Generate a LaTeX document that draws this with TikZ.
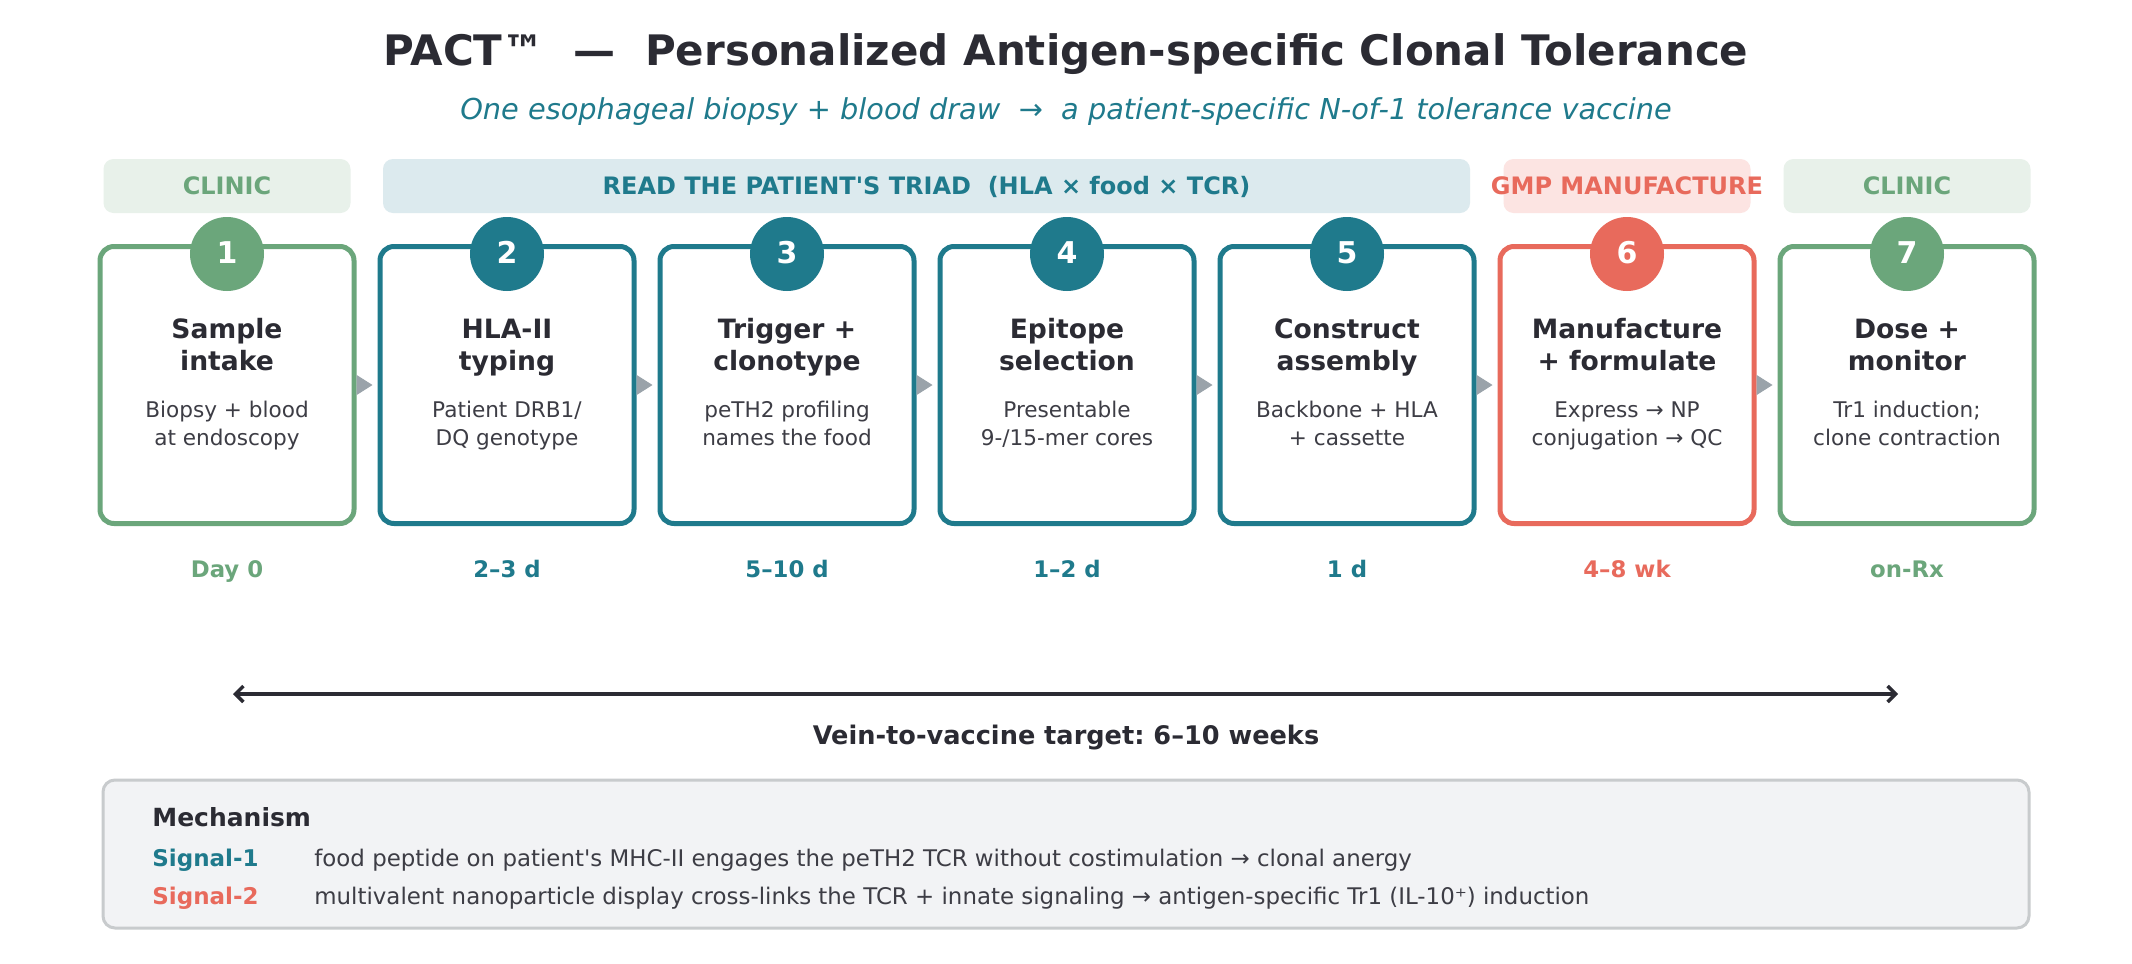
\documentclass[tikz,border=0pt]{standalone}
\usepackage{fontspec}
\setmainfont{DejaVu Sans}[ItalicFont={DejaVu Sans Oblique},BoldFont={DejaVu Sans Bold},BoldItalicFont={DejaVu Sans Bold Oblique}]
\usetikzlibrary{arrows.meta}
\frenchspacing
\definecolor{cgreen}{HTML}{6BA67B}
\definecolor{cteal}{HTML}{1F7A8C}
\definecolor{ccoral}{HTML}{E86A5C}
\definecolor{cdark}{HTML}{2B2B33}
\definecolor{ctext}{HTML}{3D3D45}
\definecolor{lgreen}{HTML}{E8F1EA}
\definecolor{lteal}{HTML}{DCEAEE}
\definecolor{lcoral}{HTML}{FCE4E2}
\definecolor{cgray}{HTML}{9AA3AA}
\definecolor{mfill}{HTML}{F2F3F5}
\definecolor{mborder}{HTML}{C8CBCD}
\tikzset{
  stepbox/.style={draw, line width=2.5pt, rounded corners=7pt, minimum width=127pt, minimum height=138.5pt, fill=white, inner sep=0pt},
  numdot/.style={circle, minimum size=37pt, inner sep=0pt, text=white, font=\bfseries\fontsize{15}{18}\selectfont},
  steptitle/.style={align=center, text=cdark, inner sep=0pt, font=\bfseries\fontsize{13.3}{16}\selectfont},
  stepdesc/.style={align=center, text=ctext, inner sep=0pt, font=\fontsize{10.8}{14}\selectfont},
  durtext/.style={inner sep=0pt, font=\bfseries\fontsize{11.4}{14}\selectfont},
  band/.style={rounded corners=5pt, minimum height=27pt, inner sep=0pt},
  bandtext/.style={inner sep=0pt, font=\bfseries\fontsize{12}{14}\selectfont},
  conn/.style={draw=cgray, line width=0.5pt, -{Triangle[length=8pt,width=10pt]}, shorten >=2.5pt},
  mechlabel/.style={inner sep=0pt, anchor=base west, font=\bfseries\fontsize{11.5}{14}\selectfont},
  mechtext/.style={inner sep=0pt, anchor=base west, text=ctext, font=\fontsize{11.45}{14}\selectfont}
}
\newcommand\pactstage[6]{%
  \node[stepbox, draw=#2] (b#1) at (#3,385) {};
  \node[numdot, fill=#2] (n#1) at (#3,254) {\raisebox{1.5pt}{#1}};
  \node[steptitle, anchor=base] (t#1) at (#3,370) {#4};
  \node[stepdesc, anchor=base] (d#1) at (#3,445) {#5};
  \node[durtext, text=#2, anchor=base] (u#1) at (#3,577) {#6};
}
\begin{document}
\begin{tikzpicture}[x=0.5pt,y=-0.5pt]
\useasboundingbox[fill=white] (0,0) rectangle (2132,964);

\node[anchor=base, inner sep=0pt, text=cdark, font=\bfseries\fontsize{21}{24}\selectfont] (title) at (1066,65) {PACT™\ \ —\ \ Personalized Antigen-specific Clonal Tolerance};
\node[anchor=base, inner sep=0pt, text=cteal, font=\itshape\fontsize{14.4}{16}\selectfont] (subtitle) at (1066,119) {One esophageal biopsy + blood draw\ \ →\ \ a patient-specific N-of-1 tolerance vaccine};

% bands
\node[band, fill=lgreen, minimum width=123.5pt] (band1) at (227,186) {};
\node[bandtext, text=cgreen, anchor=base] (bl1) at (227,194) {CLINIC};
\node[band, fill=lteal, minimum width=543.5pt] (band2) at (926.5,186) {};
\node[bandtext, text=cteal, anchor=base] (bl2) at (926.5,194) {READ THE PATIENT\textquotesingle S TRIAD\ \ (HLA × food × TCR)};
\node[band, fill=lcoral, minimum width=123.5pt] (band3) at (1627,186) {};
\node[bandtext, text=ccoral, anchor=base] (bl3) at (1627,194) {GMP MANUFACTURE};
\node[band, fill=lgreen, minimum width=123.5pt] (band4) at (1907,186) {};
\node[bandtext, text=cgreen, anchor=base] (bl4) at (1907,194) {CLINIC};

% stages
\pactstage{1}{cgreen}{227}{Sample\\intake}{Biopsy + blood\\at endoscopy}{Day 0}
\pactstage{2}{cteal}{507}{HLA-II\\typing}{Patient DRB1/\\DQ genotype}{2–3 d}
\pactstage{3}{cteal}{787}{Trigger +\\clonotype}{peTH2 profiling\\names the food}{5–10 d}
\pactstage{4}{cteal}{1067}{Epitope\\selection}{Presentable\\9-/15-mer cores}{1–2 d}
\pactstage{5}{cteal}{1347}{Construct\\assembly}{Backbone + HLA\\+ cassette}{1 d}
\pactstage{6}{ccoral}{1627}{Manufacture\\+ formulate}{Express → NP\\conjugation → QC}{4–8 wk}
\pactstage{7}{cgreen}{1907}{Dose +\\monitor}{Tr1 induction;\\clone contraction}{on-Rx}

\foreach \a/\b in {1/2,2/3,3/4,4/5,5/6,6/7} \draw[conn] (b\a.east) -- (b\b.west);

% timeline
\coordinate (tl) at (233,694);
\coordinate (tr) at (1898,694);
\draw[cdark, line width=1.75pt, {Straight Barb[length=4pt,width=8pt]}-{Straight Barb[length=4pt,width=8pt]}] (tl) -- (tr);
\node[anchor=base, inner sep=0pt, text=cdark, font=\bfseries\fontsize{12.8}{14}\selectfont] (vein) at (1066,744) {Vein-to-vaccine target: 6–10 weeks};

% mechanism
\node[draw=mborder, fill=mfill, line width=1.5pt, rounded corners=6pt, minimum width=963pt, minimum height=74pt] (mech) at (1066,854) {};
\node[mechlabel, text=cdark, font=\bfseries\fontsize{12.5}{14}\selectfont] (mh) at (152,826) {Mechanism};
\node[mechlabel, text=cteal] (s1) at (152,866) {Signal-1};
\node[mechtext] (s1t) at (314,866) {food peptide on patient\textquotesingle s MHC-II engages the peTH2 TCR without costimulation → clonal anergy};
\node[mechlabel, text=ccoral] (s2) at (152,904) {Signal-2};
\node[mechtext] (s2t) at (314,904) {multivalent nanoparticle display cross-links the TCR + innate signaling → antigen-specific Tr1 (IL-10⁺) induction};
\end{tikzpicture}
\end{document}
